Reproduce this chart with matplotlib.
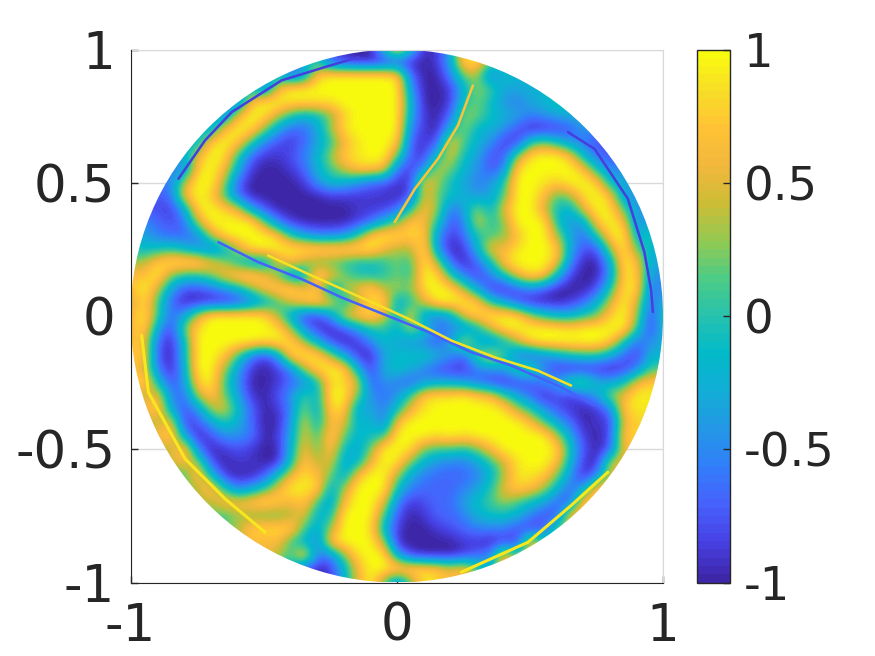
import numpy as np
import matplotlib
matplotlib.use("Agg")
import matplotlib.pyplot as plt
from matplotlib.colors import LinearSegmentedColormap
from matplotlib.patches import Circle

# field values in tenths on a 0.05 grid; every row is centred on x = 0, first row y = 1
field_rows = [
 [8],
 [0,-7,-8,-9,-9,-9, -8, -9,-9,-8,-3,8,8],
 [-6,-4,7,9,9,9,10,10, 8, -6,-9,-9,-5,2,3,-6,-1],
 [-6,5,9,10,10,10,10,10,10,10, 10, -4,-9,-9,-8,-2,3,1,-3,-3,-2],
 [-6,6,9,9,8,8,8,8,9,10,10,10, 10, -2,-9,-9,-8,0,2,-1,-4,-5,-3,-2,0],
 [-5,5,9,8,4,0,-2,-1,2,7,9,10,10, 10, -3,-8,-9,-6,3,2,-1,-2,-3,-5,-4,-3,-2],
 [-3,6,10,8,3,-3,-6,-6,-3,3,8,9,10,10, 10, -5,-8,-9,-2,3,-2,-2,-4,-7,-9,-9,-8,-7,-3],
 [-2,7,10,7,1,-5,-7,-8,-6,-3,0,5,8,9,10, 7, -7,-8,-7,6,1,-2,-4,-8,-8,0,2,-1,-4,-6,-7],
 [-3,5,9,8,1,-6,-8,-8,-7,-5,-2,3,7,8,9,9, 2, -7,-8,-1,5,-1,-3,-7,-7,2,8,10,9,6,-2,-6,-7],
 [-5,7,10,6,-2,-8,-9,-9,-8,-6,-2,1,4,7,7,6, -6, -8,-4,4,2,-2,-4,-7,-5,8,10,10,10,9,6,-1,-5],
 [-5,3,9,9,3,-6,-9,-9,-9,-9,-8,-4,-1,-2,-4,-6,-7, -8, -8,6,3,-1,-3,-5,-4,0,9,9,8,7,9,10,7,-2,-3],
 [-6,6,9,7,1,-6,-9,-9,-9,-9,-9,-9,-8,-8,-8,-8,-8, -9, -7,5,2,-1,-2,-4,-3,1,9,9,6,1,3,8,10,6,-4],
 [-7,-8,-3,8,9,7,5,-3,-7,-9,-9,-9,-9,-9,-9,-8,-8,-8, -6, 0,6,3,-6,-3,3,-2,5,9,10,4,-1,-2,5,9,8,1,-4],
 [-6,-7,-6,3,9,10,10,9,2,-5,-8,-9,-9,-9,-9,-8,-6,-2, 2, 7,6,0,-7,-5,5,0,2,9,10,9,-1,-4,-3,7,9,6,-5],
 [-3,-5,-6,-6,-5,3,8,10,10,9,7,0,-3,-5,-5,-4,0,7,9, 8, 7,7,-4,-8,-6,0,1,2,6,10,10,3,-3,-6,0,8,9,-3,0],
 [-1,-1,0,-2,-4,-6,-3,3,8,9,10,10,10,10,10,10,9,9,5, 3, 3,9,-4,-9,-8,-2,6,5,8,9,10,7,-3,-7,-7,3,9,1,-2],
 [3,7,9,10,9,6,3,-1,-4,-4,3,6,3,1,1,0,-1,-1,0, 2, 0,10,3,-6,-9,-6,-1,7,9,10,10,6,-5,-9,-9,-3,9,6,-3],
 [6,9,2,0,0,2,6,8,9,6,2,-5,-3,9,6,2,0,-1,0, 2, 0,10,8,0,-5,-8,-5,-1,5,8,7,-2,-8,-9,-9,-4,8,7,-4],
 [9,4,-3,-7,-7,-6,-4,-2,2,6,8,9,5,6,-5,3,5,8,3, 3, 2,8,10,8,3,-3,-8,-9,-7,-5,-7,-9,-9,-9,-7,0,8,8,-6],
 [3,8,1,-6,-9,-9,-9,-9,-8,-6,-3,0,4,7,8,6,-2,3,7,8, -3, 0,4,9,10,9,7,0,-3,-7,-9,-9,-9,-8,-6,-2,4,9,4,-6,-2],
 [5,9,1,-6,-3,4,9,10,10,9,8,3,-3,-8,-8,-4,5,7,8,5, -2, 6,-4,-5,-3,5,8,10,9,8,3,0,-2,-2,0,2,7,9,3,-8,0],
 [5,8,-3,-8,2,8,10,10,10,10,10,8,3,-4,-8,-9,-7,-4,0,0, -2, 3,0,-5,-5,-5,-2,4,8,10,10,10,9,8,9,10,10,9,0,-8,-1],
 [6,-6,-9,-2,9,10,10,10,9,8,9,8,3,-2,-7,-9,-8,-5,-1, -3, -4,-5,-7,-3,6,-2,-5,-2,3,8,10,10,10,10,10,7,-1,-6,-4],
 [7,-7,-9,-2,10,10,7,1,-5,-8,-4,8,9,8,3,-3,-8,-9,-3, -1, -1,0,-2,-4,-7,2,6,1,-6,-8,-5,-3,-1,0,0,-3,-6,-8,-2],
 [5,-5,-9,-3,9,10,3,-3,-8,-9,-8,-5,3,8,9,8,-2,-8,-2, -1, -2,-5,-7,-8,-8,-5,-4,-3,2,3,-5,-8,-9,-9,-9,-9,-8,-5,1],
 [8,-1,-7,-4,7,9,1,-4,-9,-9,-8,-6,-5,-1,8,7,5,-7,-4, -5, -7,-4,-3,-3,-4,-6,-8,-9,-8,-7,-4,-3,2,3,-2,-3,-1,5,7],
 [3,6,-5,-6,3,7,2,-3,-8,-9,-7,-4,1,-2,9,9,2,-4,-6, -4, 1,7,8,8,9,7,6,1,-3,-6,-9,-7,-8,-6,-3,3,5,9,8],
 [8,-3,-7,-4,3,5,-1,-6,-9,-8,-5,3,-3,8,7,-3,-3,-5, -1, 5,8,10,10,10,10,9,8,3,0,-4,-7,-8,-9,-8,-5,7,8],
 [3,6,-8,-7,-3,0,-2,-6,-9,-9,-4,5,-2,6,5,-2,-1,-6, 6, 10,10,10,10,10,10,10,10,9,6,1,-3,-6,-9,-8,-8,5,7],
 [8,-3,-9,-7,-4,-4,-5,-9,-8,-3,5,0,8,2,-2,-1,0, 10, 10,9,8,9,8,9,10,10,10,10,9,3,-3,-8,-9,-7,7],
 [3,8,-5,-9,-8,-7,-8,-9,-9,-2,6,1,7,-1,-3,2,9, 10, 8,2,1,1,0,2,6,10,10,10,9,8,-1,-7,-9,-7,6],
 [6,3,-7,-9,-8,-8,-9,-9,-1,7,3,5,-3,-2,5,10, 8, 2,-2,-4,-5,-5,-3,0,4,8,9,9,6,-2,-8,-9,4],
 [0,8,-1,-8,-9,-9,-7,-1,5,8,6,2,-3,6,9,9, 3, -3,-5,-6,-6,-6,-5,-2,3,8,8,7,2,-4,-9,-5,5],
 [3,8,0,-5,-3,0,5,9,8,8,-3,3,9,10,9, -1, -5,-6,-6,-6,-5,-3,0,5,7,6,3,-2,-6,-3,8],
 [3,7,6,7,9,7,5,7,1,-4,6,10,9,5, -5, -8,-7,-6,-6,-3,-1,1,3,1,-1,-3,-6,-7,8],
 [0,3,2,1,1,3,5,-2,-1,9,10,9,1, -7, -9,-8,-6,-6,-5,-2,-1,-1,-2,-5,-7,-7,7],
 [3,7,8,8,8,1,-3,3,9,10,8,-2, -8, -9,-9,-8,-7,-6,-5,-5,-5,-7,-8,-7,2],
 [5,6,0,-2,-5,7,9,10,9,3, -9, -9,-9,-9,-9,-8,-8,-9,-8,-8,7],
 [1,8,-5,-5,2,8,10,9, -3, -8,-9,-9,-9,-8,-6,-5,8],
 [-7,-9,-8,-2,5,9,9, 9, 9,8,7,5,7,1],
 [-6],
]
# thin filaments narrower than the grid: value, x positions, y positions
diag_blue_value = -0.7
diag_blue_x = [-.670,-.520,-.358,-.208,-.020,.118,.280,.430,.618,.743]
diag_blue_y = [.277,.202,.139,.070,-.005,-.060,-.136,-.186,-.267,-.336]
diag_yellow_value = 0.85
diag_yellow_x = [-.483,-.320,-.045,.043,.205,.368,.530,.655]
diag_yellow_y = [.227,.152,.030,-.010,-.092,-.155,-.205,-.261]
rim_ul_value = -0.85
rim_ul_x = [-.820,-.720,-.620,-.433,-.270,-.145]
rim_ul_y = [.515,.659,.765,.884,.934,.971]
rim_ur_value = -0.85
rim_ur_x = [.643,.743,.868,.930,.955,.962]
rim_ur_y = [.690,.627,.440,.240,.100,.015]
rim_ll_value = 0.9
rim_ll_x = [-.958,-.933,-.795,-.645,-.495]
rim_ll_y = [-.073,-.286,-.536,-.686,-.811]
rim_lr_value = 0.9
rim_lr_x = [.793,.655,.493,.243]
rim_lr_y = [-.586,-.711,-.849,-.961]
seam_value = 0.7
seam_x = [.286,.230,.155,.068,-.008]
seam_y = [.865,.715,.590,.477,.352]

x_ticks = [-1, 0, 1]
y_ticks = [-1, -0.5, 0, 0.5, 1]
tick_labels_x = ["-1", "0", "1"]
tick_labels_y = ["-1", "-0.5", "0", "0.5", "1"]
cbar_ticks = [-1, -0.5, 0, 0.5, 1]
cbar_labels = ["-1", "-0.5", "0", "0.5", "1"]

parula = [(0.2422,0.1504,0.6603),(0.2780,0.2556,0.8970),(0.2760,0.3820,0.9900),
          (0.1900,0.4970,0.9800),(0.1400,0.5950,0.9000),(0.0700,0.6800,0.8400),
          (0.0100,0.7300,0.7900),(0.1500,0.7600,0.6800),(0.3000,0.8000,0.5200),
          (0.5800,0.7900,0.3200),(0.8000,0.7400,0.2100),(0.9500,0.7200,0.2400),
          (1.0000,0.7600,0.2100),(0.9700,0.8700,0.1500),(0.9763,0.9831,0.0538)]
cmap = LinearSegmentedColormap.from_list("parula64", parula, N=64)

n = 41
grid = np.full((n, n), np.nan)
for r, row in enumerate(field_rows):
    pad = (n - len(row)) // 2
    grid[r, pad:pad + len(row)] = row
grid = np.clip(grid / 10.0 * 1.12, -1, 1)  # the hand-read tenths run a little low against the colour bar
while np.isnan(grid).any():
    padded = np.pad(grid, 1, constant_values=np.nan)
    stack = np.stack([padded[:-2,1:-1], padded[2:,1:-1], padded[1:-1,:-2], padded[1:-1,2:]])
    valid = ~np.isnan(stack)
    total = np.where(valid, stack, 0).sum(axis=0)
    count = valid.sum(axis=0)
    fill = np.isnan(grid) & (count > 0)
    grid[fill] = total[fill] / count[fill]

W, H = 875, 656
fig = plt.figure(figsize=(W/100, H/100), dpi=100)
ax = fig.add_axes([130.5/W, (H-582.5)/H, 532.5/W, 533/H])
dark = (0.15, 0.15, 0.15)
step = 0.05
im = ax.imshow(grid, cmap=cmap, vmin=-1, vmax=1, interpolation="bicubic", aspect="auto",
               extent=[-1-step/2, 1+step/2, -1-step/2, 1+step/2], origin="upper", zorder=2)
disc = Circle((0, 0), 1.0, transform=ax.transData)
im.set_clip_path(disc)
for val, xs, ys, lw in [(diag_blue_value, diag_blue_x, diag_blue_y, 1.8),
                        (diag_yellow_value, diag_yellow_x, diag_yellow_y, 1.8),
                        (rim_ul_value, rim_ul_x, rim_ul_y, 1.8),
                        (rim_ur_value, rim_ur_x, rim_ur_y, 1.8),
                        (rim_ll_value, rim_ll_x, rim_ll_y, 2.2),
                        (rim_lr_value, rim_lr_x, rim_lr_y, 2.2),
                        (seam_value, seam_x, seam_y, 1.8)]:
    line, = ax.plot(xs, ys, color=cmap((val + 1) / 2), lw=lw, zorder=3, solid_capstyle="round")
    line.set_clip_path(disc)
ax.set_xlim(-1, 1)
ax.set_ylim(-1, 1)
ax.set_xticks(x_ticks, tick_labels_x)
ax.set_yticks(y_ticks, tick_labels_y)
ax.grid(True, color=(0.85, 0.85, 0.85), lw=1, zorder=0)
ax.set_axisbelow(True)
ax.tick_params(direction="in", length=5, width=1, color=dark, labelcolor=dark, labelsize=37, pad=11)
ax.tick_params(axis="x", pad=14)
ax.tick_params(top=False, right=False)
for s in ["top", "right"]:
    ax.spines[s].set_color((0.85, 0.85, 0.85))
for s in ["left", "bottom"]:
    ax.spines[s].set_color(dark)
    ax.spines[s].set_zorder(5)

cax = fig.add_axes([697/W, (H-582.5)/H, 33/W, 533/H])
cb = fig.colorbar(im, cax=cax, ticks=cbar_ticks)
cb.ax.set_yticklabels(cbar_labels)
cb.ax.tick_params(direction="in", length=5, width=1, color=dark, labelcolor=dark, labelsize=33.5, pad=10, right=True)
cb.outline.set_edgecolor(dark)
cb.outline.set_linewidth(1)
fig.savefig("out.png", dpi=100)
